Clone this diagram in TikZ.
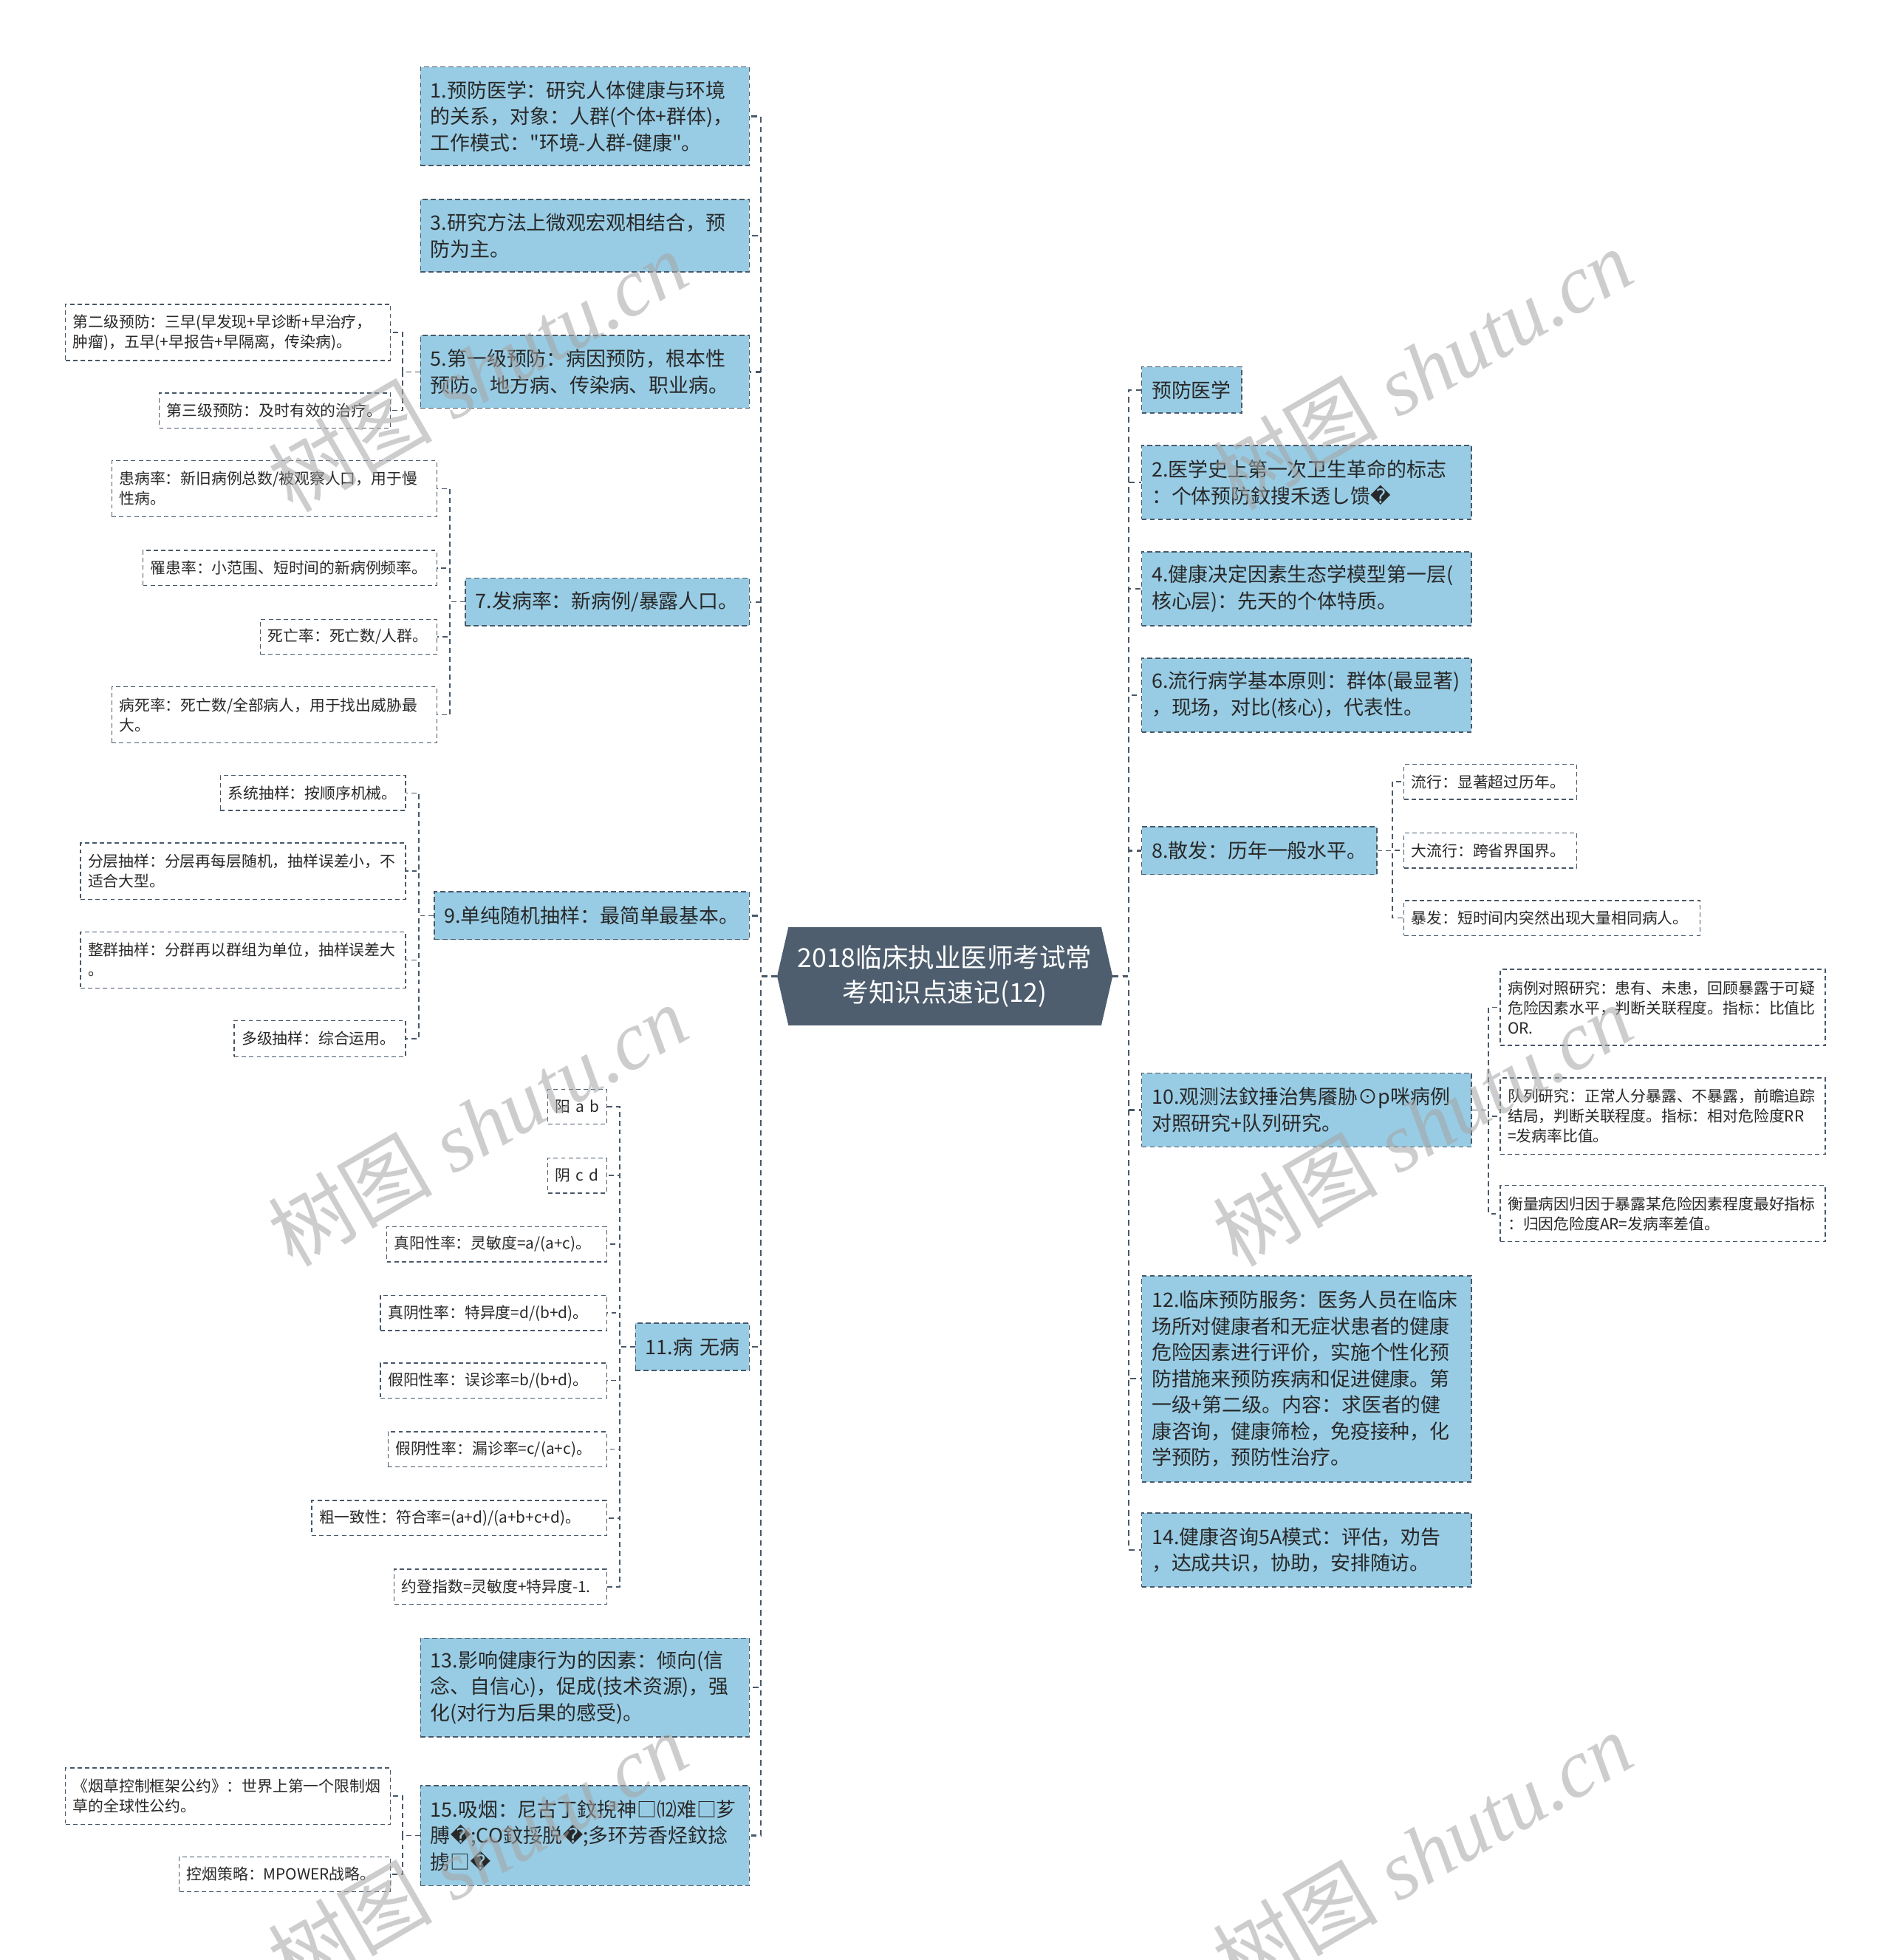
\documentclass[tikz,border=0pt]{standalone}
\usepackage{fontspec}
\setmainfont{Noto Sans CJK SC}[Ligatures=TeXOff]
\newfontfamily\dejavu{DejaVu Sans}
\newfontfamily\wmlatin{Liberation Serif}
\newcommand\repch{{\dejavu\symbol{"FFFD}}}
\definecolor{bluefill}{RGB}{152,204,228}
\definecolor{slate}{RGB}{72,88,104}
\definecolor{centerfill}{RGB}{78,94,110}
\definecolor{txt}{RGB}{40,40,40}
\definecolor{wmc}{RGB}{165,165,165}
\begin{document}
\begin{tikzpicture}[x=1pt,y=-1pt,
  bb/.style={draw=slate, line width=1pt, dash pattern=on 4pt off 2.5pt, fill=bluefill,
    text=txt, align=left, anchor=north west, inner xsep=8pt, inner ysep=0pt,
    font=\fontsize{15.9pt}{21pt}\selectfont},
  lf/.style={draw=slate, line width=0.8pt, dash pattern=on 3.5pt off 2.5pt, fill=white,
    text=txt, align=left, anchor=north west, inner xsep=6pt, inner ysep=0pt,
    font=\fontsize{12.3pt}{16pt}\selectfont},
  conn/.style={draw=slate, line width=1.4pt, dash pattern=on 4.5pt off 3.5pt},
  subconn/.style={draw=slate, line width=0.9pt, dash pattern=on 4pt off 3pt},
  wmark/.style={text=wmc, text opacity=0.55, font=\fontsize{66pt}{66pt}\selectfont, inner sep=0pt}
]
\useasboundingbox (0,0) rectangle (1513,1568);
\fill[white] (0,0) rectangle (1513,1568);

% center
\node[inner xsep=14pt, inner ysep=0pt, text width=240pt, minimum height=78pt, align=center] (c) at (756,781) {};
\fill[centerfill] (c.west) -- ([xshift=9pt]c.north west) -- ([xshift=-9pt]c.north east) -- (c.east)
  -- ([xshift=-9pt]c.south east) -- ([xshift=9pt]c.south west) -- cycle;
\node[text=white, align=center, font=\fontsize{21pt}{28pt}\selectfont] (ct) at (c.center) {2018临床执业医师考试常\\考知识点速记(12)};

% left main nodes
\node[bb, text width=247pt, minimum height=79pt] (n1) at (336,53) {1.预防医学：研究人体健康与环境\\的关系，对象：人群(个体+群体)，\\工作模式："环境-人群-健康"。};
\node[bb, text width=247pt, minimum height=58pt] (n3) at (336,159) {3.研究方法上微观宏观相结合，预\\防为主。};
\node[bb, text width=247pt, minimum height=58pt] (n5) at (336,268) {5.第一级预防：病因预防，根本性\\预防。地方病、传染病、职业病。};
\node[bb, text width=211pt, minimum height=38pt] (n7) at (372,462) {7.发病率：新病例/暴露人口。};
\node[bb, text width=236pt, minimum height=38pt] (n9) at (347,713) {9.单纯随机抽样：最简单最基本。};
\node[bb, text width=75pt, minimum height=38pt] (n11) at (508,1058) {\mbox{11.病 无病}};
\node[bb, text width=247pt, minimum height=79pt] (n13) at (336,1310) {13.影响健康行为的因素：倾向(信\\念、自信心)，促成(技术资源)，强\\化(对行为后果的感受)。};
\node[bb, text width=247pt, minimum height=80pt] (n15) at (336,1428) {15.吸烟：尼古丁鈫掜神□⑿难□芗\\膊\repch;CO鈫挼脱\repch;多环芳香烃鈫捻\\掳□\repch};

% right main nodes
\node[bb, text width=64pt, minimum height=37pt] (r0) at (913,293) {预防医学};
\node[bb, text width=248pt, minimum height=59pt] (r2) at (913,356) {2.医学史上第一次卫生革命的标志\\：个体预防鈫搜禾透し馈\repch};
\node[bb, text width=248pt, minimum height=59pt] (r4) at (913,441) {4.健康决定因素生态学模型第一层(\\核心层)：先天的个体特质。};
\node[bb, text width=248pt, minimum height=59pt] (r6) at (913,526) {6.流行病学基本原则：群体(最显著)\\，现场，对比(核心)，代表性。};
\node[bb, text width=172pt, minimum height=38pt] (r8) at (913,661) {8.散发：历年一般水平。};
\node[bb, text width=248pt, minimum height=59pt] (r10) at (913,858) {10.观测法鈫捶治隽餍胁⊙p咪病例\\对照研究+队列研究。};
\node[bb, text width=248pt, minimum height=165pt] (r12) at (913,1020) {12.临床预防服务：医务人员在临床\\场所对健康者和无症状患者的健康\\危险因素进行评价，实施个性化预\\防措施来预防疾病和促进健康。第\\一级+第二级。内容：求医者的健\\康咨询，健康筛检，免疫接种，化\\学预防，预防性治疗。};
\node[bb, text width=248pt, minimum height=59pt] (r14) at (913,1210) {14.健康咨询5A模式：评估，劝告\\，达成共识，协助，安排随访。};

% leaves left
\node[lf, text width=248pt, minimum height=45pt] (l5a) at (52,243) {第二级预防：三早(早发现+早诊断+早治疗，\\肿瘤)，五早(+早报告+早隔离，传染病)。};
\node[lf, text width=173pt, minimum height=28pt] (l5b) at (127,314) {第三级预防：及时有效的治疗。};
\node[lf, text width=248pt, minimum height=45pt] (l7a) at (89,368) {患病率：新旧病例总数/被观察人口，用于慢\\性病。};
\node[lf, text width=223pt, minimum height=28pt] (l7b) at (114,440) {罹患率：小范围、短时间的新病例频率。};
\node[lf, text width=129pt, minimum height=28pt] (l7c) at (208,495) {死亡率：死亡数/人群。};
\node[lf, text width=248pt, minimum height=45pt] (l7d) at (89,549) {病死率：死亡数/全部病人，用于找出威胁最\\大。};
\node[lf, text width=136pt, minimum height=28pt] (l9a) at (176,620) {系统抽样：按顺序机械。};
\node[lf, text width=248pt, minimum height=45pt] (l9b) at (64,674) {分层抽样：分层再每层随机，抽样误差小，不\\适合大型。};
\node[lf, text width=248pt, minimum height=45pt] (l9c) at (64,745) {整群抽样：分群再以群组为单位，抽样误差大\\。};
\node[lf, text width=125pt, minimum height=29pt] (l9d) at (187,816) {多级抽样：综合运用。};
\node[lf, text width=35pt, minimum height=28pt] (l11a) at (438,871) {\mbox{阳 a b}};
\node[lf, text width=35pt, minimum height=28pt] (l11b) at (438,926) {\mbox{阴 c d}};
\node[lf, text width=164pt, minimum height=28pt] (l11c) at (309,981) {真阳性率：灵敏度=a/(a+c)。};
\node[lf, text width=169pt, minimum height=28pt] (l11d) at (304,1036) {真阴性率：特异度=d/(b+d)。};
\node[lf, text width=169pt, minimum height=28pt] (l11e) at (304,1090) {假阳性率：误诊率=b/(b+d)。};
\node[lf, text width=163pt, minimum height=28pt] (l11f) at (310,1145) {假阴性率：漏诊率=c/(a+c)。};
\node[lf, text width=224pt, minimum height=28pt] (l11g) at (249,1200) {粗一致性：符合率=(a+d)/(a+b+c+d)。};
\node[lf, text width=158pt, minimum height=28pt] (l11h) at (315,1255) {约登指数=灵敏度+特异度-1.};
\node[lf, text width=248pt, minimum height=45pt] (l15a) at (52,1414) {《烟草控制框架公约》：世界上第一个限制烟\\草的全球性公约。};
\node[lf, text width=157pt, minimum height=28pt] (l15b) at (143,1485) {控烟策略：MPOWER战略。};

% leaves right
\node[lf, text width=126pt, minimum height=28pt] (l8a) at (1123,611) {流行：显著超过历年。};
\node[lf, text width=126pt, minimum height=28pt] (l8b) at (1123,666) {大流行：跨省界国界。};
\node[lf, text width=225pt, minimum height=28pt] (l8c) at (1123,720) {暴发：短时间内突然出现大量相同病人。};
\node[lf, text width=248pt, minimum height=61pt] (l10a) at (1200,775) {病例对照研究：患有、未患，回顾暴露于可疑\\危险因素水平，判断关联程度。指标：比值比\\OR.};
\node[lf, text width=248pt, minimum height=61pt] (l10b) at (1200,862) {队列研究：正常人分暴露、不暴露，前瞻追踪\\结局，判断关联程度。指标：相对危险度RR\\=发病率比值。};
\node[lf, text width=248pt, minimum height=45pt] (l10c) at (1200,948) {衡量病因归因于暴露某危险因素程度最好指标\\：归因危险度AR=发病率差值。};

% main connectors
\foreach \n in {n1,n3,n5,n7,n9,n11,n13,n15}
  \draw[conn] (c.west) -- ++(-13,0) |- (\n.east);
\foreach \n in {r0,r2,r4,r6,r8,r10,r12,r14}
  \draw[conn] (c.east) -- ++(13,0) |- (\n.west);

% sub connectors
\foreach \n in {l5a,l5b} \draw[subconn] (n5.west) -- ++(-14,0) |- (\n.east);
\foreach \n in {l7a,l7b,l7c,l7d} \draw[subconn] (n7.west) -- ++(-12,0) |- (\n.east);
\foreach \n in {l9a,l9b,l9c,l9d} \draw[subconn] (n9.west) -- ++(-12,0) |- (\n.east);
\foreach \n in {l11a,l11b,l11c,l11d,l11e,l11f,l11g,l11h} \draw[subconn] (n11.west) -- ++(-12,0) |- (\n.east);
\foreach \n in {l15a,l15b} \draw[subconn] (n15.west) -- ++(-14,0) |- (\n.east);
\foreach \n in {l8a,l8b,l8c} \draw[subconn] (r8.east) -- ++(12,0) |- (\n.west);
\foreach \n in {l10a,l10b,l10c} \draw[subconn] (r10.east) -- ++(13,0) |- (\n.west);

% watermarks
\foreach \i/\px/\py in {1/382/297, 2/1138/295, 3/382/900, 4/1138/900, 5/382/1482, 6/1138/1482}
  \node[wmark, rotate=30] (wm\i) at (\px,\py) {树图\hspace{0.25em}{\wmlatin\itshape shutu.cn}};
\end{tikzpicture}
\end{document}
